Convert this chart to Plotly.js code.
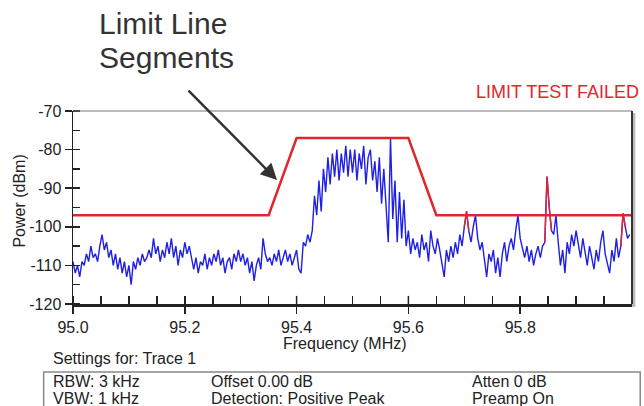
<!DOCTYPE html>
<html>
<head>
<meta charset="utf-8">
<script src="https://cdn.plot.ly/plotly-3.0.1.min.js"></script>
<style>html,body{margin:0;padding:0;background:#fff;}#chart{width:644px;height:406px;}</style>
</head>
<body>
<div id="chart"></div>
<script>
// Sweep: start frequency and bin width (MHz)
var sweepStart = 95.0;
var sweepStep = 0.004;

// Trace 1 power (dBm), 0.1 MHz per row (25 bins each)
var tracePower = [
  -109,-112,-110,-113,-109,-110,-107,-109,-105,-108,-107,-109,-105,-102,-106,-104,-108,-106,-110,-107,-111,-108,-112,-109,-113,
  -110,-115,-109,-111,-108,-110,-107,-109,-108,-106,-108,-103,-107,-105,-109,-106,-108,-104,-107,-103,-108,-105,-110,-106,-108,
  -104,-107,-105,-108,-111,-108,-112,-109,-110,-107,-111,-108,-110,-107,-109,-106,-110,-108,-112,-109,-108,-111,-107,-109,-106,
  -109,-107,-110,-108,-112,-109,-114,-110,-108,-111,-103,-107,-109,-108,-110,-107,-109,-106,-110,-108,-106,-109,-107,-110,-108,
  -106,-111,-112,-104,-105,-102,-104,-101,-92,-97,-88,-96,-85,-91,-82,-89,-81,-87,-80,-88,-81,-86,-79,-87,-80,
  -86,-80,-88,-81,-85,-79,-89,-82,-80,-88,-83,-91,-82,-94,-85,-96,-104,-77,-98,-88,-104,-91,-103,-93,-105,
  -101,-107,-103,-106,-104,-108,-102,-106,-104,-109,-101,-105,-107,-103,-106,-110,-113,-106,-109,-105,-108,-104,-107,-102,-105,
  -100,-96,-101,-104,-100,-97,-103,-106,-104,-108,-113,-107,-109,-106,-112,-108,-113,-107,-104,-109,-105,-103,-106,-101,-97,
  -103,-106,-108,-105,-109,-106,-110,-107,-105,-108,-105,-104,-87,-95,-101,-102,-97,-104,-110,-106,-112,-104,-107,-102,-105,
  -101,-104,-108,-103,-106,-110,-105,-108,-111,-106,-109,-104,-101,-107,-110,-112,-106,-109,-103,-108,-105,-96.5,-100,-103,-102
];

// Limit line segments
var limitFreq = [95.0, 95.35, 95.4, 95.6, 95.65, 96.0];
var limitLevel = [-97, -97, -77, -77, -97, -97];

// Axis ticks
var xTickVals = [95.0, 95.2, 95.4, 95.6, 95.8];
var xTickText = ['95.0', '95.2', '95.4', '95.6', '95.8'];
var yTickVals = [-70, -80, -90, -100, -110, -120];
var yTickText = ['-70', '-80', '-90', '-100', '-110', '-120'];

function limitAt(f) {
  for (var k = 0; k < limitFreq.length - 1; k++) {
    if (f >= limitFreq[k] && f <= limitFreq[k + 1]) {
      var t = (f - limitFreq[k]) / (limitFreq[k + 1] - limitFreq[k]);
      return limitLevel[k] + t * (limitLevel[k + 1] - limitLevel[k]);
    }
  }
  return limitLevel[limitLevel.length - 1];
}
var fail = tracePower.map(function (p, i) { return p > limitAt(sweepStart + i * sweepStep) + 0.01; });
var failPower = tracePower.map(function (p, i) {
  return (fail[i] || fail[i - 1] || fail[i + 1]) ? p : null;
});

var FONT = '"Liberation Sans", Arial, Helvetica, sans-serif';
var TXT = '#222';

var traces = [
  {type: 'scatter', mode: 'lines', x0: sweepStart, dx: sweepStep, y: tracePower,
   line: {color: '#1f1fe6', width: 1.4}, hoverinfo: 'skip'},
  {type: 'scatter', mode: 'lines', x0: sweepStart, dx: sweepStep, y: failPower,
   connectgaps: false, line: {color: '#e4262c', width: 1.4}, hoverinfo: 'skip'},
  {type: 'scatter', mode: 'lines', x: limitFreq, y: limitLevel,
   line: {color: '#e0262b', width: 2.5}, hoverinfo: 'skip'}
];

var shapes = [
  {type: 'line', xref: 'paper', yref: 'paper', x0: 0, x1: 1, y0: 1, y1: 1, line: {color: '#777', width: 1}},
  {type: 'rect', xref: 'paper', yref: 'paper', x0: 1.0, x1: 1.006, y0: -0.015, y1: 0.99, fillcolor: '#bbb', line: {width: 0}},
  {type: 'line', xref: 'paper', yref: 'paper', x0: 1, x1: 1, y0: 0, y1: 1, line: {color: '#333', width: 2}},
  {type: 'rect', xref: 'paper', yref: 'paper', x0: -0.0525, x1: 1.0147, y0: -0.352, y1: -0.6, fillcolor: 'rgba(0,0,0,0)', line: {color: '#888', width: 1.5}}
];
xTickVals.forEach(function (v) {
  shapes.push({type: 'line', xref: 'x', yref: 'paper', x0: v, x1: v, y0: 0, y1: 0.042, line: {color: TXT, width: 1.5}});
});

var annotations = [
  {xref: 'paper', yref: 'paper', x: 0.0424, y: 1.55, xanchor: 'left', yanchor: 'top', align: 'left',
   text: 'Limit Line', showarrow: false, font: {family: FONT, size: 30, color: '#333'}},
  {xref: 'paper', yref: 'paper', x: 0.0424, y: 1.375, xanchor: 'left', yanchor: 'top', align: 'left',
   text: 'Segments', showarrow: false, font: {family: FONT, size: 30, color: '#333'}},
  {xref: 'x', yref: 'y', x: 95.365, y: -87.9, ax: -90, ay: -91, text: '', showarrow: true,
   arrowhead: 2, arrowsize: 1.3, arrowwidth: 2.5, arrowcolor: '#333'},
  {xref: 'paper', yref: 'paper', x: 1.0165, y: 1.098, xanchor: 'right', yanchor: 'middle',
   text: 'LIMIT TEST FAILED', showarrow: false, font: {family: FONT, size: 18, color: '#e3262b'}},
  {xref: 'paper', yref: 'paper', x: 0.4865, y: -0.205, xanchor: 'center', yanchor: 'middle',
   text: 'Frequency (MHz)', showarrow: false, font: {family: FONT, size: 16, color: TXT}},
  {xref: 'paper', yref: 'paper', x: -0.0954, y: 0.534, xanchor: 'center', yanchor: 'middle', textangle: -90,
   text: 'Power (dBm)', showarrow: false, font: {family: FONT, size: 16, color: TXT}},
  {xref: 'paper', yref: 'paper', x: -0.04, y: -0.2824, xanchor: 'left', yanchor: 'middle',
   text: 'Settings for: Trace 1', showarrow: false, font: {family: FONT, size: 16, color: TXT}},
  {xref: 'paper', yref: 'paper', x: -0.04, y: -0.404, xanchor: 'left', yanchor: 'middle',
   text: 'RBW: 3 kHz', showarrow: false, font: {family: FONT, size: 16, color: TXT}},
  {xref: 'paper', yref: 'paper', x: -0.04, y: -0.492, xanchor: 'left', yanchor: 'middle',
   text: 'VBW: 1 kHz', showarrow: false, font: {family: FONT, size: 16, color: TXT}},
  {xref: 'paper', yref: 'paper', x: 0.243, y: -0.404, xanchor: 'left', yanchor: 'middle',
   text: 'Offset 0.00 dB', showarrow: false, font: {family: FONT, size: 16, color: TXT}},
  {xref: 'paper', yref: 'paper', x: 0.243, y: -0.492, xanchor: 'left', yanchor: 'middle',
   text: 'Detection: Positive Peak', showarrow: false, font: {family: FONT, size: 16, color: TXT}},
  {xref: 'paper', yref: 'paper', x: 0.71, y: -0.404, xanchor: 'left', yanchor: 'middle',
   text: 'Atten 0 dB', showarrow: false, font: {family: FONT, size: 16, color: TXT}},
  {xref: 'paper', yref: 'paper', x: 0.71, y: -0.492, xanchor: 'left', yanchor: 'middle',
   text: 'Preamp On', showarrow: false, font: {family: FONT, size: 16, color: TXT}}
];

var layout = {
  width: 644, height: 406,
  margin: {l: 73, r: 12, t: 111, b: 102, pad: 0},
  paper_bgcolor: '#fff', plot_bgcolor: '#fff',
  showlegend: false,
  font: {family: FONT, size: 16, color: TXT},
  xaxis: {
    range: [95.0, 96.0], showgrid: false, zeroline: false,
    showline: true, linecolor: TXT, linewidth: 3,
    tickmode: 'array', tickvals: xTickVals, ticktext: xTickText,
    ticks: 'outside', ticklen: 7, tickwidth: 1.5, tickcolor: TXT,
    tickfont: {family: FONT, size: 16, color: TXT},
    minor: {dtick: 0.05, tick0: 95.0, ticks: 'inside', ticklen: 8, tickwidth: 1.5, tickcolor: TXT, showgrid: false}
  },
  yaxis: {
    range: [-120, -70], showgrid: false, zeroline: false,
    showline: true, linecolor: TXT, linewidth: 1.5,
    tickmode: 'array', tickvals: yTickVals, ticktext: yTickText,
    ticks: 'outside', ticklen: 7, tickwidth: 1.5, tickcolor: TXT,
    tickfont: {family: FONT, size: 16, color: TXT},
    minor: {dtick: 5, tick0: -120, ticks: 'inside', ticklen: 7, tickwidth: 1.5, tickcolor: TXT, showgrid: false}
  },
  shapes: shapes,
  annotations: annotations
};

Plotly.newPlot('chart', traces, layout, {displayModeBar: false, staticPlot: true});
</script>
</body>
</html>
